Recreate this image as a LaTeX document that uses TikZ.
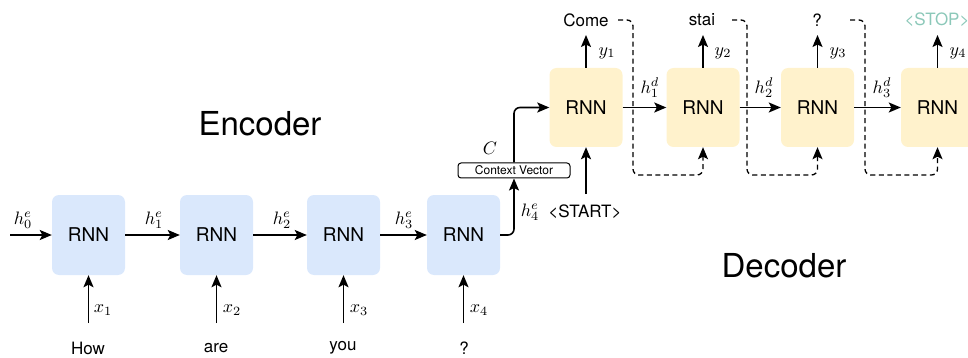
\documentclass[tikz,border=0pt]{standalone}
\usepackage{graphicx}
\usepackage{fontspec}
\setmainfont{TeX Gyre Heros}
\usetikzlibrary{arrows.meta}
\definecolor{encfill}{HTML}{DAE8FC}
\definecolor{decfill}{HTML}{FFF2CC}
\definecolor{stopcol}{RGB}{140,200,185}
\newcommand{\mlab}[1]{\scalebox{1.8}{$#1$}}
\begin{document}
\begin{tikzpicture}[x=1pt,y=-1pt,
  encbox/.style={draw=none, fill=encfill, rounded corners=7pt, minimum width=73pt, minimum height=80pt, inner sep=0pt, font=\fontsize{19}{22}\selectfont},
  decbox/.style={encbox, fill=decfill, minimum height=79pt},
  word/.style={font=\fontsize{17}{20}\selectfont, inner sep=0pt},
  lab/.style={font=\normalsize, inner sep=0pt},
  big/.style={font=\fontsize{33}{38}\selectfont, inner sep=0pt},
  arr/.style={line width=1.6pt, -{Stealth[length=12pt,width=10pt,inset=2.5pt]}},
  darr/.style={line width=1.3pt, dash pattern=on 5pt off 3.5pt, rounded corners=6pt, -{Stealth[length=12pt,width=10pt,inset=2.5pt]}},
]
\useasboundingbox (0,0) rectangle (968,358);

% titles
\node[big] (tenc) at (260,124) {Encoder};
\node[big] (tdec) at (784,266) {Decoder};

% encoder
\node[encbox] (e1) at (88.5,235) {RNN};
\node[encbox] (e2) at (216.5,235) {RNN};
\node[encbox] (e3) at (343.5,235) {RNN};
\node[encbox] (e4) at (463.5,235) {RNN};

\coordinate (h0) at (10,235);
\draw[arr] (h0) -- (e1.west);
\draw[arr] (e1) -- (e2);
\draw[arr] (e2) -- (e3);
\draw[arr] (e3) -- (e4);

\node[lab] (lh0) at (23,220) {\mlab{h_0^e}};
\node[lab] (lh1) at (154,220) {\mlab{h_1^e}};
\node[lab] (lh2) at (282,220) {\mlab{h_2^e}};
\node[lab] (lh3) at (404,220) {\mlab{h_3^e}};

\node[word] (w1) at (88,348) {How};
\node[word] (w2) at (216,348) {are};
\node[word] (w3) at (343,348) {you};
\node[word] (w4) at (464,348) {?};

\coordinate (i1) at (88.5,323);
\coordinate (i2) at (216.5,323);
\coordinate (i3) at (343.5,323);
\coordinate (i4) at (463.5,323);
\draw[arr] (i1) -- (e1.south);
\draw[arr] (i2) -- (e2.south);
\draw[arr] (i3) -- (e3.south);
\draw[arr] (i4) -- (e4.south);

\node[lab] (lx1) at (103,310) {\mlab{x_1}};
\node[lab] (lx2) at (232,310) {\mlab{x_2}};
\node[lab] (lx3) at (359,310) {\mlab{x_3}};
\node[lab] (lx4) at (479,310) {\mlab{x_4}};

% context vector
\node[draw, line width=1pt, rounded corners=3pt, minimum width=112pt, minimum height=15pt, inner sep=0pt, font=\fontsize{12}{14}\selectfont] (cv) at (514,170.5) {Context Vector};
\node[lab] (lc) at (490,148) {\mlab{C}};
\node[lab] (lh4) at (530,212) {\mlab{h_4^e}};

% decoder
\node[decbox] (d1) at (586,107.5) {RNN};
\node[decbox] (d2) at (703,107.5) {RNN};
\node[decbox] (d3) at (817.5,107.5) {RNN};
\node[decbox] (d4) at (937.5,107.5) {RNN};

\draw[arr, rounded corners=6pt] (e4.east) -| (cv.south);
\draw[arr, rounded corners=6pt] (cv.north) |- (d1.west);

\draw[arr] (d1) -- (d2);
\draw[arr] (d2) -- (d3);
\draw[arr] (d3) -- (d4);
\node[lab] (lhd1) at (650,88) {\mlab{h_1^d}};
\node[lab] (lhd2) at (764,88) {\mlab{h_2^d}};
\node[lab] (lhd3) at (882,88) {\mlab{h_3^d}};

\node[word] (st) at (585,212) {\textless START\textgreater};
\coordinate (s1) at (586,194);
\draw[arr] (s1) -- (d1.south);

\node[word] (o1) at (586,20) {Come};
\node[word] (o2) at (702,20) {stai};
\node[word] (o3) at (817,20) {?};
\node[word, text=stopcol] (o4) at (937,20) {\textless STOP\textgreater};

\coordinate (t1) at (586,35);
\coordinate (t2) at (703,35);
\coordinate (t3) at (817.5,35);
\coordinate (t4) at (937.5,35);
\draw[arr] (d1.north) -- (t1);
\draw[arr] (d2.north) -- (t2);
\draw[arr] (d3.north) -- (t3);
\draw[arr] (d4.north) -- (t4);

\node[lab] (ly1) at (607,53) {\mlab{y_1}};
\node[lab] (ly2) at (723,53) {\mlab{y_2}};
\node[lab] (ly3) at (838,53) {\mlab{y_3}};
\node[lab] (ly4) at (958,53) {\mlab{y_4}};

% feedback
\coordinate (f1a) at (618,20);
\coordinate (f1b) at (633,175);
\coordinate (f2a) at (732,20);
\coordinate (f2b) at (747,175);
\coordinate (f3a) at (850,20);
\coordinate (f3b) at (865,175);
\draw[darr] (f1a) -| (f1b) -| (d2.south);
\draw[darr] (f2a) -| (f2b) -| (d3.south);
\draw[darr] (f3a) -| (f3b) -| (d4.south);
\end{tikzpicture}
\end{document}
